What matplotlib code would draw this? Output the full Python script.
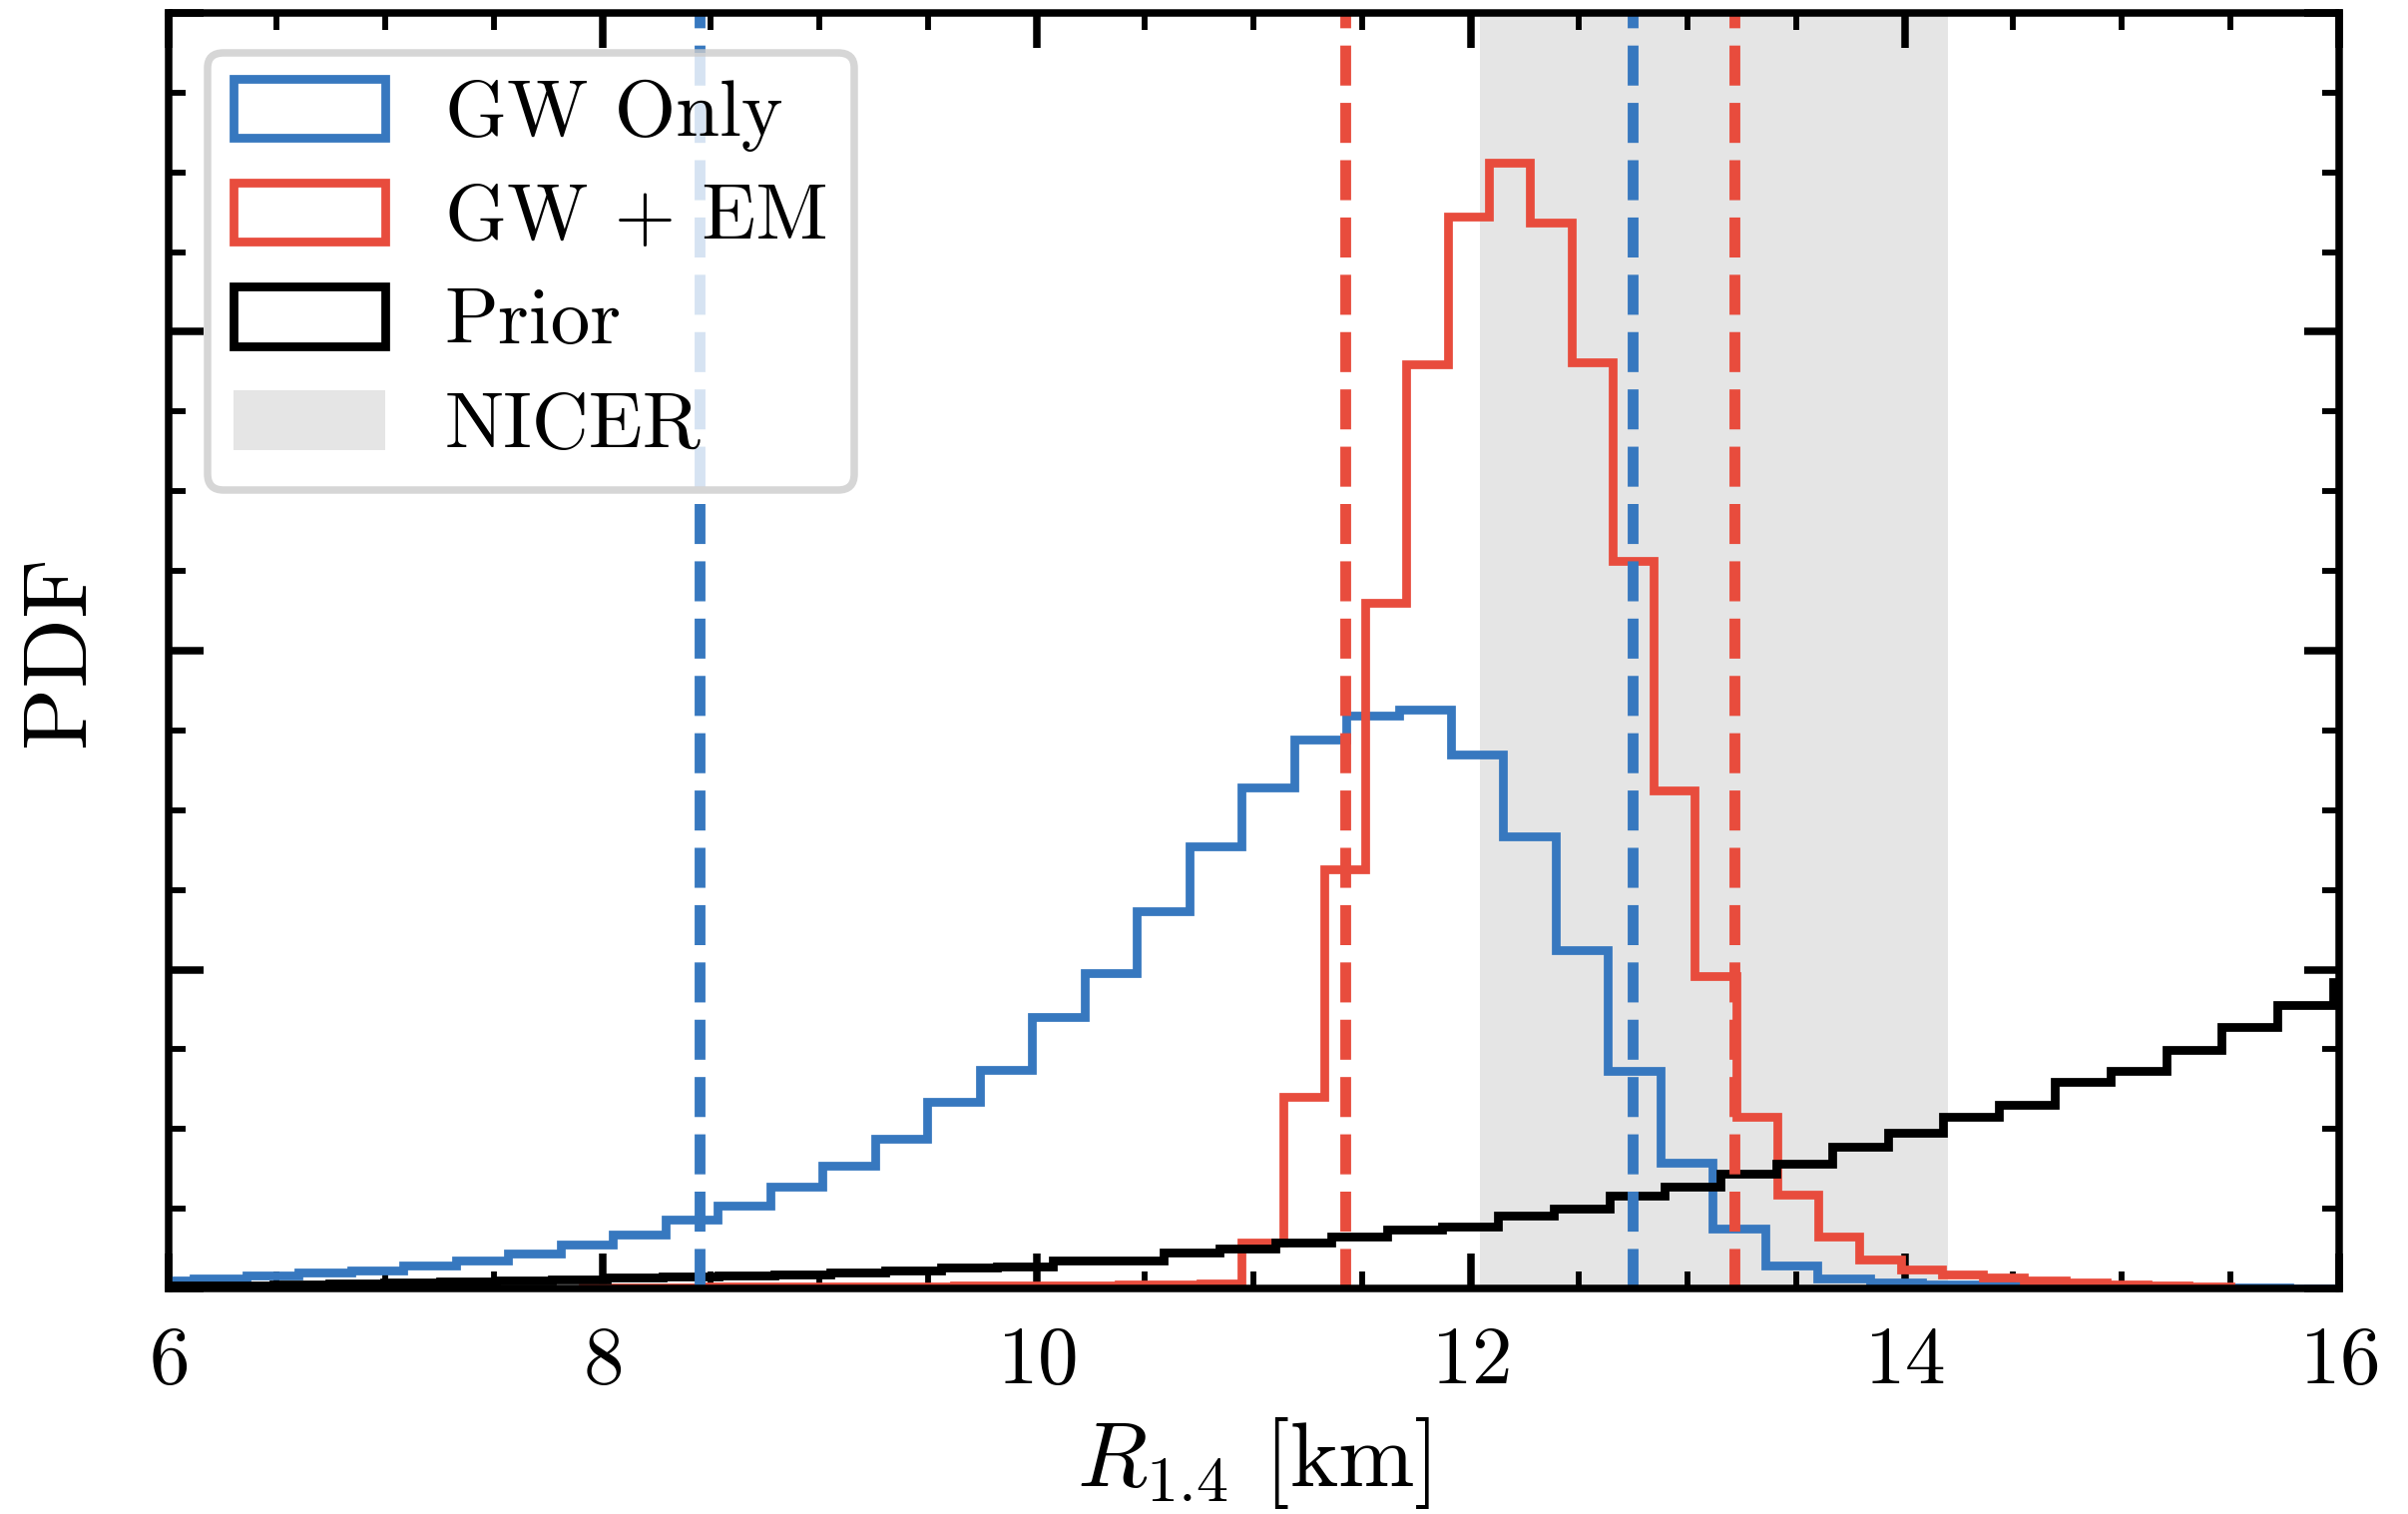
import numpy as np
import matplotlib
matplotlib.use("Agg")
import matplotlib.pyplot as plt
from matplotlib.ticker import MultipleLocator, NullFormatter

plt.rcParams['font.family'] = 'serif'
plt.rcParams['font.serif'] = ['cmr10', 'DejaVu Serif']
plt.rcParams['mathtext.fontset'] = 'cm'
plt.rcParams['axes.formatter.use_mathtext'] = True

# ---------------- data ----------------
# GW only posterior histogram (density)
gw_start, gw_width = 5.877, 0.2413
gw_values = [0.0052, 0.0062, 0.0084, 0.0098, 0.0114, 0.0144, 0.0176, 0.0222,
             0.0278, 0.0338, 0.0430, 0.0522, 0.0638, 0.0770, 0.0940, 0.1168,
             0.1374, 0.1704, 0.1976, 0.2364, 0.2770, 0.3144, 0.3446, 0.3594,
             0.3630, 0.3346, 0.2838, 0.2120, 0.1366, 0.0786, 0.0374, 0.0146,
             0.0064, 0.0038, 0.0026, 0.0020, 0.0012, 0.0008, 0.0006, 0.0004,
             0.0004, 0.0002]

# GW + EM posterior histogram (density)
em_start, em_width = 7.9108, 0.1897
em_values = [0.0006, 0.0008, 0.0008, 0.0010, 0.0010, 0.0012, 0.0012, 0.0014,
             0.0014, 0.0016, 0.0016, 0.0018, 0.0020, 0.0022, 0.0024, 0.0032,
             0.0286, 0.1204, 0.2630, 0.4300, 0.5794, 0.6724, 0.7060, 0.6684,
             0.5810, 0.4562, 0.3124, 0.1958, 0.1074, 0.0586, 0.0328, 0.0184,
             0.0122, 0.0086, 0.0066, 0.0050, 0.0036, 0.0026, 0.0020, 0.0012]

# Prior histogram (density)
pr_start, pr_width = 5.970, 0.2565
pr_values = [0.0016, 0.0020, 0.0024, 0.0030, 0.0038, 0.0044, 0.0050, 0.0056,
             0.0068, 0.0074, 0.0084, 0.0090, 0.0100, 0.0114, 0.0132, 0.0138,
             0.0174, 0.0174, 0.0226, 0.0252, 0.0288, 0.0324, 0.0372, 0.0386,
             0.0454, 0.0502, 0.0580, 0.0638, 0.0720, 0.0784, 0.0892, 0.0974,
             0.1074, 0.1154, 0.1296, 0.1362, 0.1494, 0.1640, 0.1780, 0.1920]

# credible interval bounds
gw_bounds = [8.447, 12.748]
em_bounds = [11.421, 13.216]

# NICER band
nicer_range = [12.041, 14.201]

labels = ["GW Only", "GW + EM", "Prior", "NICER"]
c_blue = '#3778bf'
c_red = '#e84c3d'

# ---------------- figure ----------------
W, H, DPI = 2413, 1517, 300
fig = plt.figure(figsize=(W / DPI, H / DPI), dpi=DPI)
ax = fig.add_axes([168.7 / W, (H - 1291) / H, (2343.7 - 168.7) / W, (1291 - 13) / H])


def edges_of(start, width, n):
    return start + width * np.arange(n + 1)


hist_lw = 2.1
for start, width, vals, col, lab in [
        (gw_start, gw_width, gw_values, c_blue, labels[0]),
        (em_start, em_width, em_values, c_red, labels[1]),
        (pr_start, pr_width, pr_values, 'black', labels[2])]:
    e = edges_of(start, width, len(vals))
    centers = 0.5 * (e[:-1] + e[1:])
    ax.hist(centers, bins=e, weights=vals, histtype='step', color=col,
            lw=hist_lw, label=lab)

ax.axvspan(nicer_range[0], nicer_range[1], color='gray', alpha=0.2, lw=0,
           zorder=0, label=labels[3])

for b in gw_bounds:
    ax.axvline(b, color=c_blue, ls='--', lw=2.6)
for b in em_bounds:
    ax.axvline(b, color=c_red, ls='--', lw=2.6)

ax.set_xlim(6, 16)
ax.set_ylim(0, 0.8)
ax.xaxis.set_major_locator(MultipleLocator(2))
ax.xaxis.set_minor_locator(MultipleLocator(0.5))
ax.yaxis.set_major_locator(MultipleLocator(0.2))
ax.yaxis.set_minor_locator(MultipleLocator(0.05))
ax.yaxis.set_major_formatter(NullFormatter())

ax.tick_params(which='both', direction='in', top=True, right=True)
ax.tick_params(which='major', length=8.5, width=1.8, labelsize=19.5, pad=9)
ax.tick_params(which='minor', length=4.0, width=1.4)
for s in ax.spines.values():
    s.set_linewidth(1.8)

ax.set_xlabel(r'$R_{1.4}$ [km]', fontsize=22, labelpad=4)
ax.set_ylabel('PDF', fontsize=22, labelpad=7)

leg = ax.legend(loc='upper left', fontsize=19, handlelength=1.92,
                handleheight=0.78, handletextpad=0.75, labelspacing=0.39,
                borderpad=0.33, borderaxespad=0.5, framealpha=0.8,
                edgecolor='0.8')
leg.get_frame().set_linewidth(1.8)

fig.savefig('out.png', dpi=DPI)
